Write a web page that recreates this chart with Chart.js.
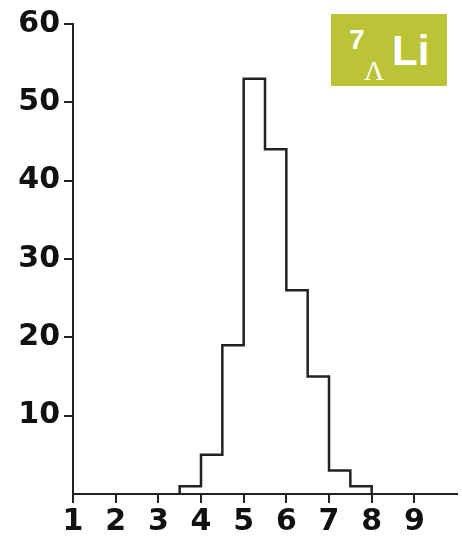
<!DOCTYPE html>
<html>
<head>
<meta charset="utf-8">
<script src="https://cdn.jsdelivr.net/npm/chart.js@4"></script>
<style>
  html, body { margin: 0; padding: 0; background: #fff; }
  #wrap { position: relative; width: 462px; height: 540px; }
  #tag { position: absolute; left: 331px; top: 14px; width: 116px; height: 72px; background: #bbc336; color: #fff; }
  #tag span { position: absolute; line-height: 1; white-space: nowrap; }
  .sup { left: 18px; top: 12px; font: bold 28px "Liberation Sans", Arial, sans-serif; }
  .sub { left: 33px; top: 43px; font: 28px "Liberation Serif", "DejaVu Serif", serif; }
  .el { left: 61px; top: 16px; font: bold 42px "Liberation Sans", Arial, sans-serif; }
</style>
</head>
<body>
<div id="wrap">
  <canvas id="myChart" width="462" height="540"></canvas>
  <div id="tag"><span class="sup">7</span><span class="sub">Λ</span><span class="el">Li</span></div>
</div>
<script>
// histogram bins (left edges) and counts
const binStarts = [3.5, 4, 4.5, 5, 5.5, 6, 6.5, 7, 7.5]
const counts = [1, 5, 19, 53, 44, 26, 15, 3, 1]
const binWidth = 0.5
const xTicks = [1, 2, 3, 4, 5, 6, 7, 8, 9]
const yTicks = [10, 20, 30, 40, 50, 60]

// step outline: start at 0, each bin edge, drop back to 0 at the end
let points = [{x: binStarts[0], y: 0}]
binStarts.forEach((b, i) => points.push({x: b, y: counts[i]}))
points.push({x: binStarts[binStarts.length - 1] + binWidth, y: 0})

const ink = '#222'
const tickFont = {family: 'DejaVu Sans', size: 30, weight: 'bold'}

const ctx = document.getElementById('myChart')
new Chart(ctx, {
    type: 'line',
    data: {
        datasets: [{
            data: points,
            stepped: 'before',
            borderColor: ink,
            borderWidth: 2.5,
            pointRadius: 0,
            fill: false,
            clip: false
        }]
    },
    options: {
        responsive: false,
        animation: false,
        layout: {padding: {top: 24, right: 5, left: 0, bottom: 0}},
        plugins: {legend: {display: false}, tooltip: {enabled: false}},
        scales: {
            x: {
                type: 'linear',
                min: 1,
                max: 10,
                afterBuildTicks: s => { s.ticks = xTicks.map(v => ({value: v})) },
                afterFit: s => { s.height = 46 },
                border: {color: ink, width: 2},
                grid: {drawOnChartArea: false, color: ink, lineWidth: 2, tickLength: 9},
                ticks: {color: '#111', font: tickFont, padding: 1, maxRotation: 0}
            },
            y: {
                min: 0,
                max: 60,
                afterBuildTicks: s => { s.ticks = yTicks.map(v => ({value: v})) },
                afterFit: s => { s.width = 73 },
                border: {color: ink, width: 2},
                grid: {drawOnChartArea: false, color: ink, lineWidth: 2, tickLength: 9},
                ticks: {color: '#111', font: tickFont, padding: 4}
            }
        }
    }
})
</script>
</body>
</html>
